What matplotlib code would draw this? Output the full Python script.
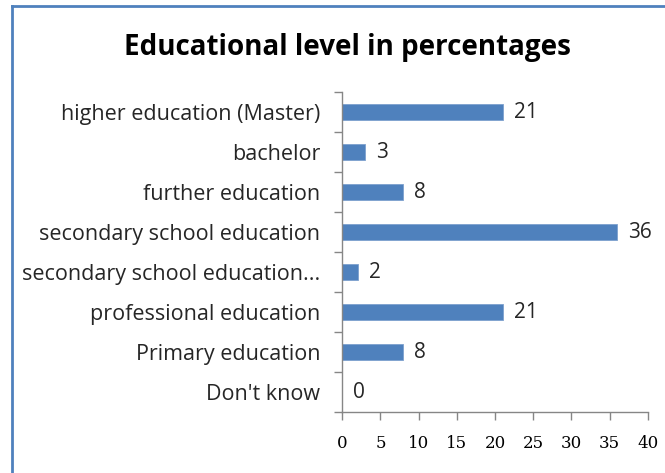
import numpy as np
import matplotlib.pyplot as plt
from matplotlib.lines import Line2D

categories = ['higher education (Master)', 'bachelor', 'further education',
              'secondary school education', 'secondary school education...',
              'professional education', 'Primary education', "Don't know"]
values = [21, 3, 8, 36, 2, 21, 8, 0]
xticks = [0, 5, 10, 15, 20, 25, 30, 35, 40]

bar_color = '#4F81BD'
axis_color = '#868686'
text_color = '#262626'

fig = plt.figure(figsize=(6.65, 4.73), dpi=100)
ax = fig.add_axes([0.5147, 0.1283, 0.4593, 0.6766])

# first category at the top
y = np.arange(len(categories))[::-1]
ax.barh(y, values, height=0.4, color=bar_color, edgecolor='#7DA0CE', linewidth=0.6)

for yi, v in zip(y, values):
    ax.annotate(str(v), (v, yi), xytext=(8, 0), textcoords='offset points',
                va='center', ha='left', fontsize=15, family='Open Sans', color=text_color)

ax.set_xlim(0, 40)
ax.set_ylim(-0.5, len(categories) - 0.5)
ax.set_xticks(xticks)
ax.set_xticklabels([str(t) for t in xticks], family='DejaVu Serif', fontsize=12, color='black')
ax.set_yticks(y)
ax.set_yticklabels(categories, family='Open Sans', fontsize=15.5, color=text_color)

# tick marks sit between categories, labels stay centered
ax.set_yticks(np.arange(len(categories) + 1) - 0.5, minor=True)
ax.tick_params(axis='y', which='major', length=0, pad=16)
ax.tick_params(axis='y', which='minor', length=6, color=axis_color, width=1)
ax.tick_params(axis='x', which='major', length=6, color=axis_color, width=1, pad=10)

for side in ['top', 'right']:
    ax.spines[side].set_visible(False)
for side in ['left', 'bottom']:
    ax.spines[side].set_color(axis_color)
    ax.spines[side].set_linewidth(1)

fig.text(0.523, 1 - 47 / 473, 'Educational level in percentages', ha='center', va='center',
         fontsize=20, fontweight='bold', family='Open Sans', color='black')

# chart frame (left and top edges)
fig.add_artist(Line2D([11.5 / 665, 11.5 / 665], [0, 1 - 6.5 / 473], transform=fig.transFigure,
                      color=bar_color, linewidth=2))
fig.add_artist(Line2D([11.5 / 665, 1], [1 - 6.5 / 473, 1 - 6.5 / 473], transform=fig.transFigure,
                      color=bar_color, linewidth=2))

fig.savefig('out.png', dpi=100)
